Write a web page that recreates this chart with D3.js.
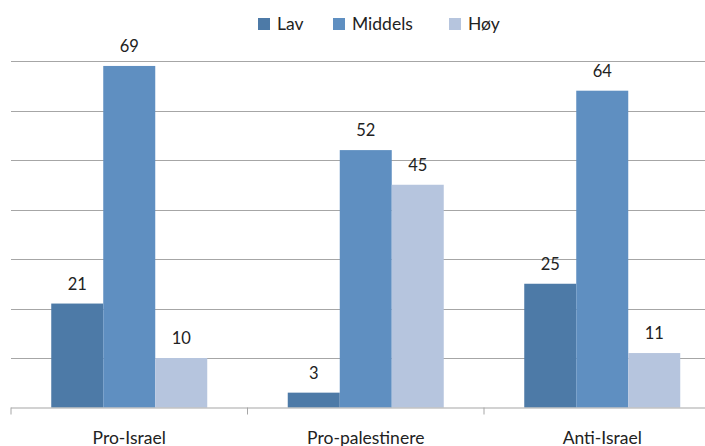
<!DOCTYPE html>
<html><head><meta charset="utf-8">
<script src="https://cdn.jsdelivr.net/npm/d3@7"></script>
<style>body{margin:0;background:#fff}svg{display:block}text{font-family:Lato,"Open Sans",sans-serif;fill:#222}</style>
</head><body>
<svg id="c" width="705" height="446"></svg>
<script>
const categories = ["Pro-Israel", "Pro-palestinere", "Anti-Israel"];
const seriesNames = ["Lav", "Middels", "Høy"];
const lav = [21, 3, 25];
const middels = [69, 52, 64];
const hoy = [10, 45, 11];
const yTicks = [0, 10, 20, 30, 40, 50, 60, 70];
const colors = ["#4d7aa7", "#5f8fc1", "#b6c5de"];

const seriesValues = [lav, middels, hoy];
const svg = d3.select("#c");
const mLeft = 11, mRight = 720.5, mTop = 61, mBottom = 407.5;

const x0 = d3.scaleBand().domain(categories).range([mLeft, mRight]).paddingInner(0).paddingOuter(0);
const x1 = d3.scaleBand().domain(seriesNames).range([0, x0.bandwidth()]).paddingInner(0).paddingOuter(0.774);
const y = d3.scaleLinear().domain([0, 70]).range([mBottom, mTop]);

// gridlines
svg.append("g").selectAll("line").data(yTicks.filter(d => d > 0)).join("line")
  .attr("x1", mLeft).attr("x2", mRight)
  .attr("y1", d => Math.round(y(d)) + 0.5).attr("y2", d => Math.round(y(d)) + 0.5)
  .attr("stroke", "#a6a6a6").attr("stroke-width", 1.2);

// bars
const groups = svg.append("g").selectAll("g").data(categories).join("g")
  .attr("transform", c => `translate(${x0(c)},0)`);
groups.each(function(c, ci) {
  const g = d3.select(this);
  seriesNames.forEach((s, si) => {
    const v = seriesValues[si][ci];
    g.append("rect").attr("x", x1(s)).attr("width", x1.bandwidth())
      .attr("y", y(v)).attr("height", y(0) - y(v)).attr("fill", colors[si]);
    g.append("text").attr("x", x1(s) + x1.bandwidth() / 2).attr("y", y(v) - 14)
      .attr("text-anchor", "middle").attr("font-size", 16.5).text(v);
  });
});

// x axis
const ax = svg.append("g").attr("transform", `translate(0,${mBottom})`);
ax.append("line").attr("x1", mLeft).attr("x2", mRight).attr("y1", 0.5).attr("y2", 0.5)
  .attr("stroke", "#a6a6a6").attr("stroke-width", 1.2);
ax.selectAll("line.tk").data(categories.concat(["end"])).join("line").attr("class", "tk")
  .attr("x1", (d, i) => i < categories.length ? x0(d) : mRight)
  .attr("x2", (d, i) => i < categories.length ? x0(d) : mRight)
  .attr("y1", 0).attr("y2", 7).attr("stroke", "#a6a6a6");
ax.selectAll("text.cl").data(categories).join("text").attr("class", "cl")
  .attr("x", d => x0(d) + x0.bandwidth() / 2).attr("y", 36)
  .attr("text-anchor", "middle").attr("font-size", 17.5).text(d => d);

// legend
const legendX = [258, 333, 449];
const lg = svg.append("g");
seriesNames.forEach((s, i) => {
  lg.append("rect").attr("x", legendX[i]).attr("y", 18).attr("width", 12).attr("height", 12).attr("fill", colors[i]);
  lg.append("text").attr("x", legendX[i] + 19).attr("y", 30).attr("font-size", 17.5).text(s);
});
</script>
</body></html>
